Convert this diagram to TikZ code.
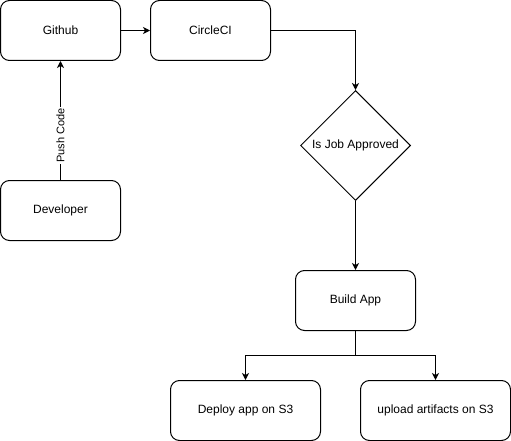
\documentclass[tikz,border=0pt]{standalone}
\usepackage{fontspec}
\setmainfont{Liberation Sans}
\usetikzlibrary{shapes.geometric,arrows.meta}
\begin{document}
\begin{tikzpicture}[x=1pt,y=-1pt,
  box/.style={draw,line width=1pt,rounded corners=9pt,minimum width=120pt,minimum height=60pt,inner sep=0pt,font=\fontsize{12}{14}\selectfont},
  widebox/.style={box,minimum width=150pt},
  decision/.style={draw,line width=1pt,diamond,aspect=1,minimum width=110pt,minimum height=110pt,inner sep=0pt,font=\fontsize{12}{14}\selectfont},
  conn/.style={line width=1pt,-{Stealth[length=7pt,width=7pt,inset=2pt]}},
  lbl/.style={fill=white,inner sep=1pt,font=\fontsize{11}{13}\selectfont}]
\useasboundingbox (0,0) rectangle (511,441);
\node[box] (github) at (60.5,30.5) {Github};
\node[box] (circleci) at (210.5,30.5) {CircleCI};
\node[box] (dev) at (60.5,210.5) {Developer};
\node[decision] (job) at (355.5,145.5) {Is Job Approved};
\node[box] (build) at (355.5,300.5) {Build App};
\node[widebox] (deploy) at (245.5,410.5) {Deploy app on S3};
\node[widebox] (upload) at (435.5,410.5) {upload artifacts on S3};
\coordinate (split) at (355.5,355.5);
\draw[conn] (github) -- (circleci);
\draw[conn] (circleci.east) -| (job.north);
\draw[conn] (job.south) -- (build.north);
\draw[conn] (dev.north) -- node[lbl,rotate=90,pos=0.375] {Push Code} (github.south);
\draw[line width=1pt] (build.south) -- (split);
\draw[conn] (split) -| (deploy.north);
\draw[conn] (split) -| (upload.north);
\end{tikzpicture}
\end{document}
